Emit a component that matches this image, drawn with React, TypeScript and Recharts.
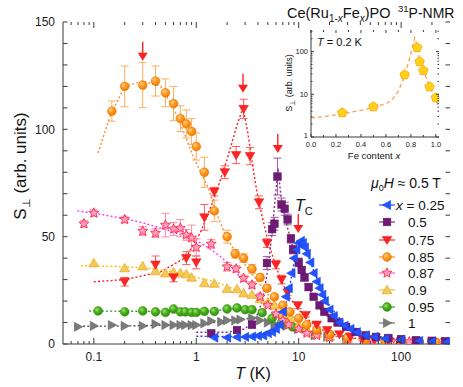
import React from 'react';
import { ComposedChart, Scatter, Line, XAxis, YAxis, ErrorBar } from 'recharts';

// ---------- main panel data: S_perp (arb. units) vs T (K) ----------
const blueT = [1.5, 2, 2.5, 3, 3.5, 4, 4.5, 5, 5.5, 6, 6.5, 7, 7.5, 8, 8.5, 9, 9.5, 10, 10.5, 11, 11.5, 12, 13, 14, 15, 16, 17, 18, 20, 22, 25, 28, 32, 37, 45, 55, 70, 100, 150, 200, 280];
const blueS = [3, 3, 3.2, 3.3, 3.5, 3.8, 4, 5, 5.6, 7, 9, 15, 22, 26, 33, 40, 44, 47, 48, 47, 45, 42, 38, 33, 29, 26, 23, 20, 16, 13, 10, 8.5, 7, 5.5, 4, 3.3, 2.5, 2, 1.5, 1.2, 1];

const purpleT = [1.4, 2.5, 3.5, 4.9, 5.5, 5.8, 6.2, 6.8, 7.3, 7.8, 8.4, 8.8, 10, 10.7, 11.4, 12.5, 14, 16, 17.8, 21, 24, 29, 36, 45, 57, 75, 100, 140, 200, 270];
const purpleS = [5, 6.5, 9, 37.7, 53.5, 56, 78, 65, 63, 58, 49, 44, 38, 34.5, 31, 26.5, 22, 18, 15, 12, 10, 8, 5.6, 4, 3.3, 2.8, 2.3, 1.8, 1.5, 1.3];
const purpleE = [1, 1, 1.5, 3, 3, 3, 8.6, 3, 3, 2.5, 2, 2, 2, 1.5, 1.5, 1.5, 1, 1, 1, 1, 1, 1, 1, 1, 1, 1, 1, 1, 1, 1];

const redT = [0.2, 0.4, 0.6, 0.8, 1.0, 1.2, 1.5, 1.9, 2.45, 2.9, 3.35, 4.1, 4.9, 6, 6.8, 7.8, 9.8, 11.7, 15, 19, 25, 32, 42, 55, 75, 100, 140, 200, 270];
const redS = [29, 37, 31, 40, 38, 59, 71, 80, 88, 109.5, 87.5, 66, 47, 37, 30, 24, 18, 13.5, 9, 6.5, 4.5, 3.5, 2.5, 2, 1.5, 1.3, 1.2, 1, 1];
const redE = [2, 4, 2, 3, 3, 6, 2, 3, 4, 4.5, 4, 3, 2, 2, 2, 1.5, 1.5, 1, 1, 1, 1, 1, 1, 1, 1, 1, 1, 1, 1];

const orangeT = [0.15, 0.2, 0.3, 0.4, 0.5, 0.6, 0.7, 0.8, 0.9, 1.0, 1.2, 1.5, 2, 2.4, 2.9, 3.5, 4.2, 4.9, 5.8, 7, 8.2, 10, 12, 15, 20, 30, 45, 70, 100, 150, 220];
const orangeS = [108.5, 120, 120.6, 122.5, 117, 112, 105, 102.5, 99, 92, 80, 62, 50, 42, 40, 35, 31, 26, 22, 18, 15, 12, 9, 6.5, 4.5, 3, 2, 1.5, 1.2, 1, 0.8];
const orangeE = [4.7, 9.5, 10.5, 7, 6.5, 8, 6, 6.5, 6, 6.3, 7, 5, 3, 2, 2, 2, 1.5, 1.5, 1, 1, 1, 1, 1, 1, 1, 1, 1, 1, 1, 1, 1];

const pinkT = [0.08, 0.1, 0.2, 0.3, 0.4, 0.5, 0.6, 0.7, 0.8, 0.9, 1.0, 1.4, 2, 2.45, 2.9, 3.5, 4.2, 5, 6, 7, 8, 10, 12, 15, 20, 30, 50, 80, 120, 200];
const pinkS = [56, 61, 58, 52.6, 51.7, 55.4, 53.6, 54, 50.8, 49.4, 45, 46.6, 36, 35, 30.6, 27.5, 22, 18, 14, 11, 9, 7, 5, 4, 3, 2, 1.5, 1.2, 1, 0.8];
const pinkE = [1.5, 1.5, 1.5, 2, 2, 5.5, 3, 4, 2.5, 6, 4, 2, 2, 1.5, 1.5, 1.5, 1.5, 1, 1, 1, 1, 1, 1, 1, 1, 1, 1, 1, 1, 1];

const yellowT = [0.1, 0.2, 0.3, 0.4, 0.5, 0.6, 0.7, 0.8, 0.9, 1.2, 1.5, 2, 2.5, 2.9, 3.5, 4.2, 5, 5.8, 7, 8.2, 10, 12, 15, 20, 30, 50, 80, 120, 200];
const yellowS = [37.7, 35.4, 36.3, 34, 33, 33.5, 33, 32.6, 31, 28.4, 28.2, 25.8, 25.6, 23.7, 23, 21, 19.5, 18, 14, 12, 9, 7, 5, 3.5, 2.5, 1.5, 1.2, 1, 0.8];

const greenT = [0.11, 0.2, 0.3, 0.4, 0.5, 0.6, 0.7, 0.78, 0.9, 1.0, 1.2, 1.5, 2, 2.5, 3, 3.5, 4.4, 5.5, 6.8, 8.7, 11.4, 15, 20, 30, 50, 70, 100, 150, 200];
const greenS = [15.4, 15, 15.4, 15, 14.7, 16.3, 15, 15, 14.7, 14.7, 15.2, 15.2, 16.3, 16.8, 16, 16, 14.6, 12, 10, 8, 7, 5.5, 4.5, 3, 2, 1.5, 1.2, 1, 0.8];

const grayT = [0.07, 0.1, 0.15, 0.2, 0.3, 0.4, 0.5, 0.6, 0.7, 0.78, 0.9, 1.0, 1.2, 1.4, 1.75, 2, 2.4, 2.7, 3.5, 4.2, 5, 5.8, 7.6, 9.8, 14.3, 19, 29, 45, 70, 100, 150, 200];
const grayS = [8, 8.4, 8.8, 8.4, 8.4, 9.3, 8.8, 8.8, 8.8, 8.8, 8.8, 8.8, 9.6, 10.7, 10.3, 11, 11, 11.4, 12, 11, 10, 9.3, 8.4, 7, 4, 3.3, 2, 1.5, 1.2, 1, 0.8, 0.8];

// dotted guide curves
const blueFitT = [1, 2, 3, 4, 5, 6, 7, 8, 9, 10, 11, 12, 14, 17, 20, 25, 30, 40, 60, 100];
const blueFitS = [3.6, 3.5, 3.5, 3.8, 4.5, 7, 13, 24, 38, 46, 47, 43, 34, 25, 18, 12, 9, 6, 3.5, 2];
const purpleFitT = [1, 2, 3, 4, 4.5, 5, 5.5, 6, 6.3, 6.6, 7, 8, 9, 10, 11, 12, 14, 17, 20, 25, 30, 40, 60, 100];
const purpleFitS = [5.5, 5.5, 7, 14, 22, 35, 52, 72, 82, 72, 62, 52, 43, 37, 33, 28, 22, 15, 12, 9, 7, 5, 3, 2];
const redFitT = [0.1, 0.2, 0.45, 0.8, 1.1, 1.5, 2, 2.5, 2.86, 3.2, 3.5, 4, 5, 6, 7, 8, 10, 12, 15, 20, 30, 50];
const redFitS = [29, 30, 33.6, 40.5, 52, 68, 86, 102, 110, 98, 85, 68, 48, 36, 28, 22, 16, 12, 8, 5, 3, 2];
const orangeFitT = [0.11, 0.146, 0.2, 0.3, 0.45, 0.6, 0.75, 0.94, 1.3, 1.6, 2, 2.5, 3, 4, 5, 6, 7, 8, 10];
const orangeFitS = [89, 107, 120, 122.5, 120, 110, 99, 87, 73, 60, 49, 42, 37, 29, 23, 19, 16, 14, 11];
const pinkFitT = [0.069, 0.1, 0.17, 0.3, 0.45, 0.7, 0.94, 1.3, 1.7, 2.2, 2.7];
const pinkFitS = [62, 61, 59, 56.5, 54, 51, 49, 45, 41, 36, 31];
const yellowFitT = [0.075, 0.2, 0.4, 0.7, 1, 1.5, 2, 2.7, 3.5];
const yellowFitS = [36.5, 36, 35, 33, 31, 29, 27, 24, 22];
const greenFitT = [0.09, 0.3, 1, 2, 2.7, 3.5];
const greenFitS = [15.4, 15.2, 15, 16, 17, 16.5];
const grayFitT = [0.065, 0.2, 0.5, 1, 1.5, 2, 2.7, 3.5];
const grayFitS = [8.2, 8.4, 8.8, 9, 10, 11, 11.5, 12];

// red arrows (tip positions)
const arrowT = [0.3, 2.86, 6.25, 9.9];
const arrowS = [132, 117, 89, 51.7];

// axis ticks
const xMajorTicks = [0.1, 1, 10, 100];
const xAllTicks = [0.06, 0.07, 0.08, 0.09, 0.1, 0.2, 0.3, 0.4, 0.5, 0.6, 0.7, 0.8, 0.9, 1, 2, 3, 4, 5, 6, 7, 8, 9, 10, 20, 30, 40, 50, 60, 70, 80, 90, 100, 200];
const yLabelTicks = [0, 50, 100, 150];
const yAllTicks = [0, 10, 20, 30, 40, 50, 60, 70, 80, 90, 100, 110, 120, 130, 140, 150];

// legend
const legendLabels = ['0.25', '0.5', '0.75', '0.85', '0.87', '0.9', '0.95', '1'];

// ---------- inset data: S_perp at T = 0.2 K vs Fe content ----------
const insetX = [0.25, 0.5, 0.75, 0.85, 0.87, 0.9, 0.95, 1.0];
const insetY = [3.7, 5.1, 28.7, 124, 58, 36, 15, 8.3];
const insetFitX = [0, 0.1, 0.2, 0.3, 0.4, 0.5, 0.6, 0.65, 0.7, 0.75, 0.8, 0.83, 0.85, 0.87, 0.9, 0.95, 1.0, 1.025];
const insetFitY = [2.8, 3.0, 3.3, 3.7, 4.2, 5.0, 6.0, 7.5, 12, 27, 90, 210, 130, 65, 36, 15, 7.5, 5];
const insetXLabelTicks = [0, 0.2, 0.4, 0.6, 0.8, 1.0];
const insetXAllTicks = [0, 0.1, 0.2, 0.3, 0.4, 0.5, 0.6, 0.7, 0.8, 0.9, 1.0];
const insetYLabelTicks = [1, 10, 100];
const insetYAllTicks = [1, 2, 3, 4, 5, 6, 7, 8, 9, 10, 20, 30, 40, 50, 60, 70, 80, 90, 100, 200, 300];

const zip = (t: number[], s: number[], e?: number[]) => t.map((T, i) => ({ T, S: s[i], E: e ? e[i] : 0 }));
const zipXY = (x: number[], y: number[]) => x.map((v, i) => ({ x: v, y: y[i] }));

const FONT = '"Liberation Sans", Arial, Helvetica, sans-serif';
const X_DOMAIN: [number, number] = [0.05, 300];
const Y_DOMAIN: [number, number] = [0, 150];
const AX = '#3a3a3a';

// main plot frame (chart is placed at page origin)
const M = { top: 22, right: 13, bottom: 13, left: 23 };
const W = 463, H = 387, XAXIS_H = 30, YAXIS_W = 40;
const PLOT_TOP = M.top;
const PLOT_RIGHT = W - M.right;

// inset frame
const IW = 165, IH = 140, IM = { top: 5, right: 6, bottom: 0, left: 6 };
const I_TOP = IM.top;
const I_RIGHT = IW - IM.right;

// ---------- marker shapes ----------
const starPts = (cx: number, cy: number, R: number, r: number, n = 5) => {
  const p: string[] = [];
  for (let i = 0; i < n * 2; i++) {
    const a = -Math.PI / 2 + (i * Math.PI) / n;
    const rr = i % 2 === 0 ? R : r;
    p.push(`${cx + rr * Math.cos(a)},${cy + rr * Math.sin(a)}`);
  }
  return p.join(' ');
};
const polyPts = (cx: number, cy: number, R: number, n: number) => {
  const p: string[] = [];
  for (let i = 0; i < n; i++) {
    const a = -Math.PI / 2 + (i * 2 * Math.PI) / n;
    p.push(`${cx + R * Math.cos(a)},${cy + R * Math.sin(a)}`);
  }
  return p.join(' ');
};

type MarkFn = (cx: number, cy: number) => React.ReactElement;
const MARKS: Record<string, MarkFn> = {
  blue: (cx, cy) => <polygon points={`${cx + 3.6},${cy - 4.6} ${cx + 3.6},${cy + 4.6} ${cx - 4.8},${cy}`} fill="#2255ff" stroke="#1238e0" strokeWidth={0.5} />,
  purple: (cx, cy) => <rect x={cx - 3.8} y={cy - 3.8} width={7.6} height={7.6} fill="#6e1a76" stroke="#5a105f" strokeWidth={0.5} />,
  red: (cx, cy) => <polygon points={`${cx - 4.8},${cy - 3.6} ${cx + 4.8},${cy - 3.6} ${cx},${cy + 4.6}`} fill="#ff2424" stroke="#e01010" strokeWidth={0.5} />,
  orange: (cx, cy) => <circle cx={cx} cy={cy} r={4.4} fill="url(#gOrange)" stroke="#e07000" strokeWidth={0.5} />,
  pink: (cx, cy) => <polygon points={starPts(cx, cy, 5.2, 2.4)} fill="#ff9cc0" stroke="#ff2a4a" strokeWidth={0.9} />,
  yellow: (cx, cy) => <polygon points={`${cx - 5},${cy + 3.8} ${cx + 5},${cy + 3.8} ${cx},${cy - 4.8}`} fill="#f0cc50" stroke="#f0a030" strokeWidth={0.7} />,
  green: (cx, cy) => <circle cx={cx} cy={cy} r={4.4} fill="url(#gGreen)" stroke="#2f8a10" strokeWidth={0.5} />,
  gray: (cx, cy) => <polygon points={`${cx - 3.6},${cy - 4.6} ${cx - 3.6},${cy + 4.6} ${cx + 4.8},${cy}`} fill="#7a7a7a" stroke="#5e5e5e" strokeWidth={0.5} />,
  penta: (cx, cy) => <polygon points={polyPts(cx, cy, 5, 5)} fill="#ffd21a" stroke="#ffa200" strokeWidth={0.8} />,
};
const shapeOf = (k: string) => (p: any) => (p && p.cx != null ? MARKS[k](p.cx, p.cy) : <g />);

const arrowShape = (p: any) => {
  if (!p || p.cx == null) return <g />;
  const { cx, cy } = p;
  return (
    <g>
      <line x1={cx} y1={cy - 19} x2={cx} y2={cy - 7} stroke="#ff2020" strokeWidth={1.4} />
      <polygon points={`${cx - 5},${cy - 8} ${cx + 5},${cy - 8} ${cx},${cy}`} fill="#ff2020" />
    </g>
  );
};

// ---------- tick renderers: inward tick marks on both sides + labels on majors ----------
const TS = 6, TM = 2; // tickSize, tickMargin used for label placement
const makeXTick = (labels: number[], top: number, majLen: number, minLen: number, fs: number, fmt: (v: number) => string, ts: number, tm: number) =>
  (p: any) => {
    const { x, y, payload } = p;
    const v = payload.value as number;
    const axisY = y - ts - tm;
    const major = labels.includes(v);
    const len = major ? majLen : minLen;
    return (
      <g>
        <line x1={x} x2={x} y1={axisY} y2={axisY - len} stroke={AX} />
        <line x1={x} x2={x} y1={top} y2={top + len} stroke={AX} />
        {major ? (
          <text x={x} y={y} dy="0.71em" textAnchor="middle" fontSize={fs} fill="#1a1a1a" fontFamily={FONT}>{fmt(v)}</text>
        ) : null}
      </g>
    );
  };
const makeYTick = (labels: number[], right: number, majLen: number, minLen: number, fs: number, fmt: (v: number) => string, ts: number, tm: number, nudge?: (v: number) => number) =>
  (p: any) => {
    const { x, y, payload } = p;
    const v = payload.value as number;
    const axisX = x + ts + tm;
    const major = labels.includes(v);
    const len = major ? majLen : minLen;
    return (
      <g>
        <line x1={axisX} x2={axisX + len} y1={y} y2={y} stroke={AX} />
        <line x1={right} x2={right - len} y1={y} y2={y} stroke={AX} />
        {major ? (
          <text x={x} y={y + (nudge ? nudge(v) : 0)} dy="0.355em" textAnchor="end" fontSize={fs} fill="#1a1a1a" fontFamily={FONT}>{fmt(v)}</text>
        ) : null}
      </g>
    );
  };

const SERIES = [
  { key: 'gray', data: zip(grayT, grayS), fit: zip(grayFitT, grayFitS), line: '#555555', err: null },
  { key: 'green', data: zip(greenT, greenS), fit: zip(greenFitT, greenFitS), line: '#2a9a20', err: null },
  { key: 'yellow', data: zip(yellowT, yellowS), fit: zip(yellowFitT, yellowFitS), line: '#ffc000', err: null },
  { key: 'pink', data: zip(pinkT, pinkS, pinkE), fit: zip(pinkFitT, pinkFitS), line: '#ff33ff', err: '#ff8aa0' },
  { key: 'orange', data: zip(orangeT, orangeS, orangeE), fit: zip(orangeFitT, orangeFitS), line: '#ff8c3a', err: '#ffae5a' },
  { key: 'red', data: zip(redT, redS, redE), fit: zip(redFitT, redFitS), line: '#ff1a1a', err: '#ff5a5a' },
  { key: 'purple', data: zip(purpleT, purpleS, purpleE), fit: zip(purpleFitT, purpleFitS), line: '#8a2a8a', err: '#9a5a9a' },
  { key: 'blue', data: zip(blueT, blueS), fit: zip(blueFitT, blueFitS), line: '#1f3cff', err: null },
];
const LEGEND_ORDER = ['blue', 'purple', 'red', 'orange', 'pink', 'yellow', 'green', 'gray'];
const LEGEND_LINE: Record<string, string> = { blue: '#2255ff', purple: '#7a3a80', red: '#ff3030', orange: '#ff8c1a', pink: '#ff55cc', yellow: '#f0c040', green: '#40a020', gray: '#707070' };

const arrowData = zip(arrowT, arrowS);

const MainXTick = makeXTick(xMajorTicks, PLOT_TOP, 6, 3, 12, (v) => String(v), TS, TM);
const MainYTick = makeYTick(yLabelTicks, PLOT_RIGHT, 4.5, 4.5, 12, (v) => String(v), TS, TM);

function MainChart() {
  return (
    <ComposedChart width={W} height={H} margin={M} style={{ fontFamily: FONT }}>
      <XAxis dataKey="T" type="number" scale="log" domain={X_DOMAIN} allowDataOverflow ticks={xAllTicks} interval={0}
        tickSize={TS} tickMargin={TM} tickLine={false} axisLine={{ stroke: AX }} height={XAXIS_H} tick={MainXTick} />
      <XAxis xAxisId="top" orientation="top" mirror height={0} type="number" scale="log" domain={X_DOMAIN} allowDataOverflow
        ticks={[]} tick={false} tickLine={false} axisLine={{ stroke: AX }} />
      <YAxis dataKey="S" type="number" domain={Y_DOMAIN} allowDataOverflow ticks={yAllTicks} interval={0} width={YAXIS_W}
        tickSize={TS} tickMargin={TM} tickLine={false} axisLine={{ stroke: AX }} tick={MainYTick} />
      <YAxis yAxisId="right" orientation="right" mirror width={0} type="number" domain={Y_DOMAIN} allowDataOverflow
        ticks={[]} tick={false} tickLine={false} axisLine={{ stroke: AX }} />

      {SERIES.map((s) => (
        <Line key={`fit-${s.key}`} data={s.fit} dataKey="S" dot={false} activeDot={false} stroke={s.line} strokeWidth={1.4}
          strokeDasharray="2 2.2" isAnimationActive={false} legendType="none" />
      ))}
      {SERIES.map((s) => (
        <Scatter key={`pts-${s.key}`} data={s.data} dataKey="S" shape={shapeOf(s.key)} isAnimationActive={false} legendType="none">
          {s.err ? <ErrorBar dataKey="E" direction="y" width={4} stroke={s.err} strokeWidth={1} /> : null}
        </Scatter>
      ))}
      <Scatter data={arrowData} dataKey="S" shape={arrowShape} isAnimationActive={false} legendType="none" />
    </ComposedChart>
  );
}

const InsetXTick = makeXTick(insetXLabelTicks, I_TOP, 3, 2, 7.5, (v) => v.toFixed(1), 2, 3);
const InsetYTick = makeYTick(insetYLabelTicks, I_RIGHT, 3, 1.5, 7.5, (v) => String(v), 2, 1, (v) => (v === 1 ? -1.5 : 0));

function InsetChart() {
  const pts = zipXY(insetX, insetY);
  const fit = zipXY(insetFitX, insetFitY);
  const XD: [number, number] = [0, 1.025];
  const YD: [number, number] = [1, 320];
  return (
    <ComposedChart width={IW} height={IH} margin={IM} style={{ fontFamily: FONT }}>
      <XAxis dataKey="x" type="number" domain={XD} allowDataOverflow ticks={insetXAllTicks} interval={0}
        tickLine={false} tickSize={2} tickMargin={3} height={28} axisLine={{ stroke: AX }} tick={InsetXTick} />
      <XAxis xAxisId="it" orientation="top" mirror height={0} type="number" domain={XD} allowDataOverflow ticks={[]} tick={false} tickLine={false} axisLine={{ stroke: AX }} />
      <YAxis dataKey="y" type="number" scale="log" domain={YD} allowDataOverflow ticks={insetYAllTicks} interval={0} width={25} tickLine={false}
        tickSize={2} tickMargin={1} axisLine={{ stroke: AX }} tick={InsetYTick} />
      <YAxis yAxisId="ir" orientation="right" mirror width={0} type="number" scale="log" domain={YD} allowDataOverflow ticks={[]} tick={false} tickLine={false} axisLine={{ stroke: AX }} />
      <Line data={fit} dataKey="y" dot={false} activeDot={false} stroke="#ffa050" strokeWidth={1.3} strokeDasharray="4 3" isAnimationActive={false} />
      <Scatter data={pts} dataKey="y" shape={shapeOf('penta')} isAnimationActive={false} />
    </ComposedChart>
  );
}

function Overlay() {
  const rowY = [205, 222, 240, 257, 273, 290, 307, 323];
  return (
    <svg width={W} height={H} style={{ position: 'absolute', left: 0, top: 0, pointerEvents: 'none' }} fontFamily={FONT} fill="#111">
      <defs>
        <radialGradient id="gOrange" cx="0.38" cy="0.35" r="0.7">
          <stop offset="0" stopColor="#ffd28a" />
          <stop offset="0.45" stopColor="#ff9a1e" />
          <stop offset="1" stopColor="#f07800" />
        </radialGradient>
        <radialGradient id="gGreen" cx="0.38" cy="0.35" r="0.7">
          <stop offset="0" stopColor="#9ee070" />
          <stop offset="0.45" stopColor="#48b018" />
          <stop offset="1" stopColor="#2f8a10" />
        </radialGradient>
      </defs>
      {/* title */}
      <text x={287} y={18} fontSize={14.5}>
        Ce(Ru<tspan fontSize={10} dy={4}>1-</tspan><tspan fontSize={10} fontStyle="italic">x</tspan>
        <tspan dy={-4}>Fe</tspan><tspan fontSize={10} dy={4} fontStyle="italic">x</tspan><tspan dy={-4}>)PO</tspan>
      </text>
      <text x={398} y={18} fontSize={14}>
        <tspan fontSize={9.5} dy={-6}>31</tspan><tspan dy={6}>P-NMR</tspan>
      </text>
      {/* axis titles */}
      <text transform="translate(26,166) rotate(-90)" textAnchor="middle" fontSize={17}>
        S<tspan fontSize={11} dy={4}>⊥</tspan><tspan dy={-4}> (arb. units)</tspan>
      </text>
      <text x={253} y={379} textAnchor="middle" fontSize={16}>
        <tspan fontStyle="italic">T</tspan> (K)
      </text>
      {/* Tc */}
      <text x={295} y={211} fontSize={16} fontStyle="italic">
        T<tspan fontSize={11} fontStyle="normal" dy={4}>C</tspan>
      </text>
      {/* field */}
      <text x={371} y={188} fontSize={14}>
        <tspan fontStyle="italic">μ</tspan><tspan fontSize={9} dy={3}>0</tspan><tspan dy={-3} fontStyle="italic">H</tspan> ≈ 0.5 T
      </text>
      {/* legend */}
      {LEGEND_ORDER.map((k, i) => (
        <g key={k}>
          <line x1={379} x2={395} y1={rowY[i]} y2={rowY[i]} stroke={LEGEND_LINE[k]} strokeWidth={1.2} />
          {MARKS[k](387, rowY[i])}
          {i === 0 ? (
            <text x={396} y={rowY[i] + 5} fontSize={13.5}>
              <tspan fontStyle="italic">x</tspan> = {legendLabels[i]}
            </text>
          ) : (
            <text x={408} y={rowY[i] + 5} fontSize={13.5}>{legendLabels[i]}</text>
          )}
        </g>
      ))}
      {/* inset texts */}
      <text x={317} y={46} fontSize={11}>
        <tspan fontStyle="italic">T</tspan> = 0.2 K
      </text>
      <text transform="translate(292,83) rotate(-90)" textAnchor="middle" fontSize={9}>
        S<tspan fontSize={6.5} dy={2.5}>⊥</tspan><tspan dy={-2.5}> (arb. units)</tspan>
      </text>
      <text x={374} y={159} textAnchor="middle" fontSize={9.5}>
        Fe content <tspan fontStyle="italic">x</tspan>
      </text>
    </svg>
  );
}

export default function App() {
  return (
    <div style={{ position: 'absolute', left: 0, top: 0, width: W, height: H, background: '#fff', fontFamily: FONT }}>
      <div style={{ position: 'absolute', left: 0, top: 0 }}>
        <MainChart />
      </div>
      <div style={{ position: 'absolute', left: 280, top: 25 }}>
        <InsetChart />
      </div>
      <Overlay />
    </div>
  );
}
